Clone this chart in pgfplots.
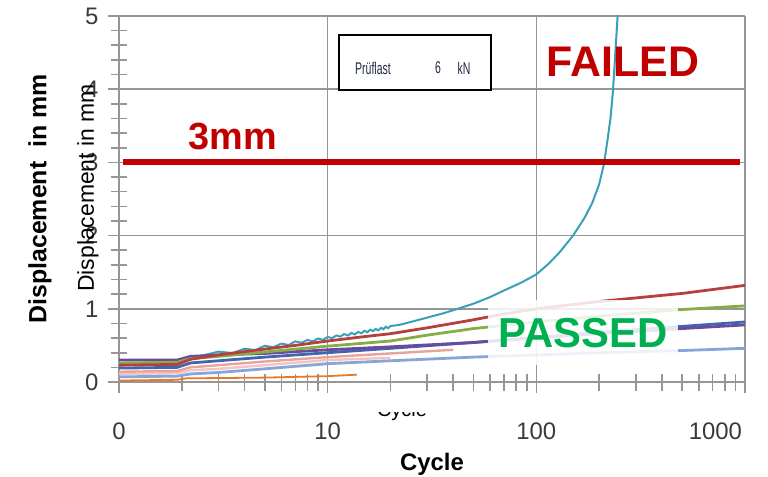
\documentclass[border=0pt]{standalone}
\usepackage{pgfplots}
\pgfplotsset{compat=1.18}
\usepackage{fontspec}
\setmainfont{Liberation Sans}
\usepackage{graphicx}

\definecolor{gridgray}{HTML}{969696}
\definecolor{labelgray}{HTML}{3A3A3A}
\definecolor{failred}{HTML}{C00000}
\definecolor{passgreen}{HTML}{00B050}
\definecolor{cteal}{HTML}{3A9FB8}
\definecolor{cred}{HTML}{B5403D}
\definecolor{cgreen}{HTML}{86AE46}
\definecolor{cpurple}{HTML}{6A4A9C}
\definecolor{cblue}{HTML}{3F66B0}
\definecolor{clblue}{HTML}{86A6D9}
\definecolor{csalmon}{HTML}{E8A39B}
\definecolor{cpink}{HTML}{F2C4C4}
\definecolor{corange}{HTML}{E8782A}
\definecolor{navy}{HTML}{1F2A44}

\begin{document}
\begin{tikzpicture}
\useasboundingbox (-119bp,-95bp) rectangle (649bp,382bp);
\begin{axis}[
  scale only axis, width=626bp, height=366bp,
  xmode=log, log basis x=10,
  xmin=1, xmax=1000, ymin=0, ymax=5,
  axis line style={draw=none},
  tick pos=left,
  grid=major,
  major grid style={draw=gridgray, line width=1.6bp},
  xtick={1,10,100,1000},
  xticklabels={0,10,100,\llap{1000\kern3bp}},
  minor xtick={2,3,4,5,6,7,8,9,20,30,40,50,60,70,80,90,200,300,400,500,600,700,800,900},
  ytick={0,1,2,3,4,5},
  minor y tick num=4,
  tick align=center,
  major tick length=22bp,
  minor tick length=17bp,
  every tick/.style={draw=gridgray, line width=1.6bp},
  /pgf/number format/assume math mode=true,
  tick label style={font=\fontsize{24}{28}\selectfont, text=labelgray},
  xticklabel style={yshift=-26bp},
  yticklabel style={xshift=-6bp},
  clip=true,
]
% failed specimen
\addplot[cteal, line width=2bp] coordinates {
(1,0.25)(1.5,0.25)(1.9,0.26)(2.2,0.33)(2.5,0.36)(3,0.415)(3.5,0.395)(4,0.455)
(4.5,0.435)(5,0.495)(5.5,0.475)(6,0.525)(6.5,0.505)(7,0.555)(7.5,0.535)(8,0.575)
(8.5,0.555)(9,0.595)(9.5,0.575)(10,0.615)(10.5,0.6)(11,0.635)(11.5,0.62)(12,0.655)
(12.5,0.635)(13,0.67)(13.5,0.65)(14,0.685)(14.5,0.665)(15,0.70)(15.5,0.68)(16,0.715)
(16.5,0.695)(17,0.725)(17.5,0.705)(18,0.74)(18.5,0.72)(19,0.755)(19.5,0.735)(20,0.765)
(22,0.78)(25,0.82)(30,0.88)(36,0.94)(42,1.0)(50,1.07)(60,1.16)(70,1.25)(85,1.36)
(100,1.47)(115,1.62)(130,1.78)(150,2.0)(170,2.24)(185,2.44)(200,2.7)(211,2.98)
(220,3.33)(227,3.62)(233,3.98)(238,4.4)(244,4.9)(250,5.4)};
% passed specimens
\addplot[cpink, line width=2.4bp] coordinates {
(1,0.11)(1.9,0.12)(2.2,0.16)(3,0.18)(5,0.23)(10,0.30)(20,0.33)};
\addplot[csalmon, line width=2.4bp] coordinates {
(1,0.14)(1.9,0.15)(2.2,0.2)(3,0.23)(5,0.28)(10,0.34)(20,0.39)(40,0.44)};
\addplot[clblue, line width=2.8bp] coordinates {
(1,0.07)(1.9,0.08)(2.2,0.11)(3,0.13)(5,0.18)(10,0.25)(20,0.29)(50,0.34)
(100,0.37)(200,0.4)(500,0.43)(1000,0.46)};
\addplot[cblue, line width=2.8bp] coordinates {
(1,0.19)(1.9,0.2)(2.2,0.26)(3,0.29)(5,0.34)(10,0.40)(20,0.46)(50,0.54)
(100,0.61)(200,0.68)(500,0.76)(1000,0.82)};
\addplot[cpurple, line width=2.8bp] coordinates {
(1,0.30)(1.9,0.30)(2.2,0.35)(3,0.37)(5,0.39)(10,0.44)(20,0.48)(50,0.54)
(100,0.6)(200,0.66)(500,0.73)(1000,0.78)};
\addplot[cgreen, line width=2.8bp] coordinates {
(1,0.26)(1.9,0.27)(2.2,0.32)(3,0.35)(5,0.41)(10,0.49)(20,0.56)(30,0.64)
(50,0.73)(100,0.82)(200,0.9)(500,0.99)(1000,1.04)};
\addplot[cred, line width=2.8bp] coordinates {
(1,0.23)(1.9,0.24)(2.2,0.31)(3,0.37)(5,0.45)(7,0.5)(10,0.56)(15,0.62)(20,0.66)
(30,0.74)(50,0.85)(70,0.93)(100,1.0)(200,1.1)(500,1.21)(1000,1.32)};
\addplot[corange, line width=1.8bp] coordinates {
(1,0.02)(1.9,0.03)(2.1,0.05)(5,0.06)(10,0.08)(13.8,0.1)};
% 3 mm limit
\addplot[failred, line width=6bp] coordinates {(1.045,3)(945,3)};
\end{axis}

% fade behind the PASSED label
\fill[white, opacity=0.85] (369bp,17bp) rectangle (559bp,82bp);

% test load box
\draw[black, line width=1.5bp, fill=white] (220bp,292bp) rectangle (372bp,347bp);
\node[text=navy, font=\fontsize{17}{20}\selectfont] at (254bp,314bp) {\scalebox{0.62}[1]{Prüflast}};
\node[text=navy, font=\fontsize{17}{20}\selectfont] at (319bp,314bp) {\scalebox{0.62}[1]{6}};
\node[text=navy, font=\fontsize{17}{20}\selectfont] at (345bp,314bp) {\scalebox{0.62}[1]{kN}};

% annotations
\node[text=failred, font=\bfseries\fontsize{43}{50}\selectfont] at (504bp,320bp) {FAILED};
\node[text=failred, font=\bfseries\fontsize{38}{44}\selectfont] at (114bp,246bp) {3mm};
\node[text=passgreen, font=\bfseries\fontsize{42}{48}\selectfont] at (464bp,49bp) {PASSED};

% axis titles
\node[rotate=90, font=\bfseries\fontsize{25}{30}\selectfont] at (-79bp,183bp) {Displacement\ \ in mm};
\node[rotate=90, font=\fontsize{23}{27}\selectfont] at (-31bp,194bp) {Displacement in mm};
\node[anchor=base, font=\bfseries\fontsize{24}{28}\selectfont] at (313bp,-88bp) {Cycle};
\begin{scope}
  \clip (255bp,-30bp) rectangle (320bp,-45bp);
  \node[anchor=base, font=\fontsize{20}{24}\selectfont] at (283bp,-34bp) {Cycle};
\end{scope}
\end{tikzpicture}
\end{document}
